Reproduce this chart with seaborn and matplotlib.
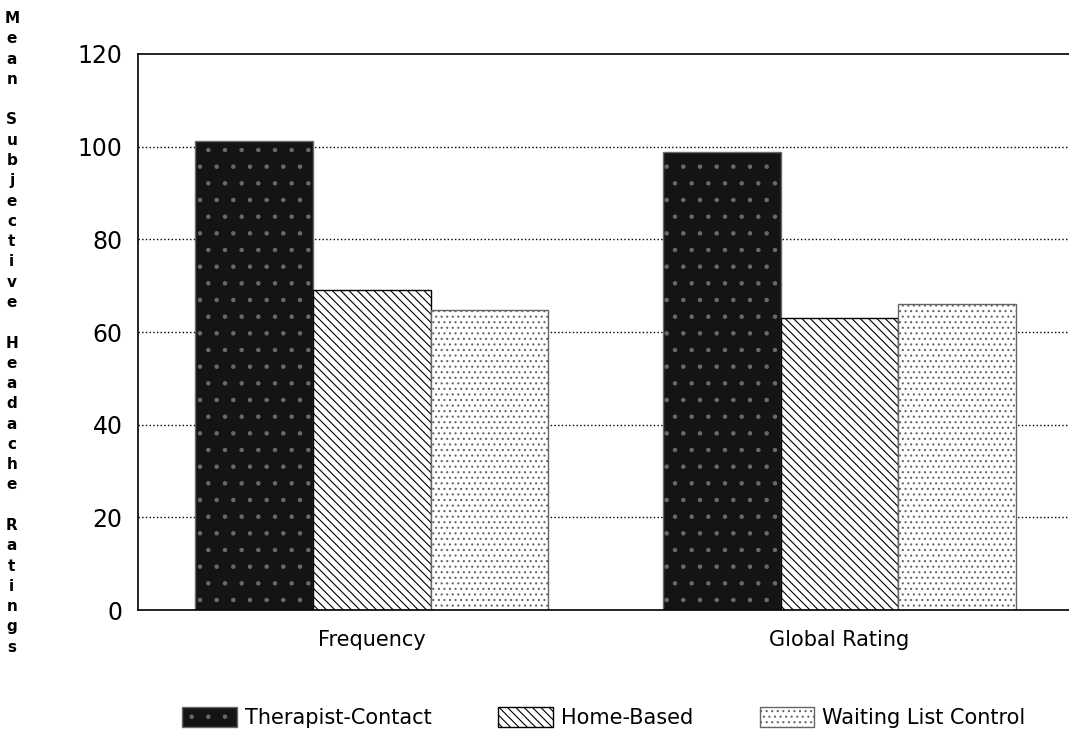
import numpy as np
import pandas as pd
import matplotlib.pyplot as plt
import seaborn as sns
from matplotlib.patches import Patch

# values
measures = ["Frequency", "Global Rating"]
groups = ["Therapist-Contact", "Home-Based", "Waiting List Control"]
therapist = [101.2, 98.9]
home_based = [69.1, 63.0]
waiting = [64.8, 66.0]
y_ticks = [0, 20, 40, 60, 80, 100, 120]

dt = pd.DataFrame({
    "measure": measures * 3,
    "group": [g for g in groups for _ in measures],
    "value": therapist + home_based + waiting,
})

sns.set_style("white")
plt.rcParams["font.family"] = ["DejaVu Sans"]
plt.rcParams["hatch.linewidth"] = 0.8
plt.rcParams["text.color"] = "black"
plt.rcParams["xtick.color"] = "black"
plt.rcParams["ytick.color"] = "black"

fig = plt.figure(figsize=(10.69, 7.37), dpi=100)
ax = fig.add_axes([0.129, 0.172, 0.875, 0.755])

sns.barplot(data=dt, x="measure", y="value", hue="group", order=measures,
            hue_order=groups, width=0.755, ax=ax, legend=False)

# fill styles imitating the print patterns
styles = [
    dict(facecolor="#141414", edgecolor="#6a6a6a", hatch="."),
    dict(facecolor="white", edgecolor="black", hatch="\\\\\\\\"),
    dict(facecolor="white", edgecolor="#666666", hatch="..."),
]
for cont, st in zip(ax.containers, styles):
    for bar in cont:
        bar.set_facecolor(st["facecolor"])
        bar.set_edgecolor(st["edgecolor"])
        bar.set_hatch(st["hatch"])
        bar.set_linewidth(1.0)

ax.set_ylim(0, 120)
ax.set_xlim(-0.5, 1.5)
ax.set_yticks(y_ticks)
ax.set_yticklabels([str(t) for t in y_ticks], fontsize=17)
ax.tick_params(axis="y", length=0, pad=11)
ax.tick_params(axis="x", length=0, pad=14, labelsize=15)
ax.set_xlabel("")
ax.set_ylabel("")
for t in y_ticks[1:-1]:
    ax.axhline(t, color="black", linestyle=":", linewidth=1.0, zorder=0)
for side in ["left", "bottom", "top"]:
    ax.spines[side].set_color("black")
    ax.spines[side].set_linewidth(1.2)
ax.spines["right"].set_visible(False)

# stacked vertical letters for the y label
words = ["Mean", "Subjective", "Headache", "Ratings"]
label = "\n\n".join("\n".join(w) for w in words)
fig.text(0.011, 0.985, label, ha="center", va="top", fontsize=11,
         fontweight="bold", linespacing=1.44)

handles = [Patch(facecolor=s["facecolor"], edgecolor=s["edgecolor"],
                 hatch=s["hatch"]) for s in styles]
fig.legend(handles, groups, loc="center", bbox_to_anchor=(0.565, 0.026),
           ncol=3, frameon=False, fontsize=15, columnspacing=3.2,
           handlelength=2.6, handleheight=1.1, handletextpad=0.4)

plt.savefig("out.png", dpi=100)
